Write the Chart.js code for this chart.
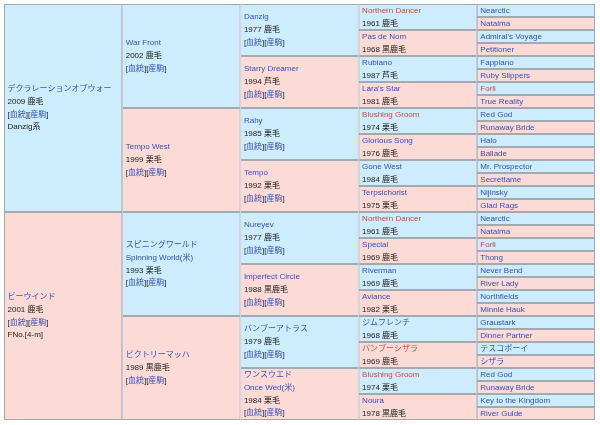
<!DOCTYPE html>
<html>
<head>
<meta charset="utf-8">
<script src="https://cdn.jsdelivr.net/npm/chart.js@4/dist/chart.umd.min.js"></script>
<style>
  html, body { margin: 0; padding: 0; background: #fff; }
  canvas { display: block; }
</style>
</head>
<body>
<canvas id="pedigree" width="600" height="425"></canvas>
<script>
// 世代 (列)
const generations = ['1代', '2代', '3代', '4代', '5代'];

// 1代
const gen1Names = ['デクラレーションオブウォー', 'ビーウインド'];
const gen1Info = ['2009 鹿毛', '2001 鹿毛'];
const gen1Extra = ['Danzig系', 'FNo.[4-m]'];

// 2代
const gen2Names = ['War Front', 'Tempo West', 'スピニングワールド\nSpinning World(米)', 'ビクトリーマッハ'];
const gen2Info = ['2002 鹿毛', '1999 栗毛', '1993 栗毛', '1989 黒鹿毛'];

// 3代
const gen3Names = ['Danzig', 'Starry Dreamer', 'Rahy', 'Tempo', 'Nureyev', 'Imperfect Circle',
  'バンブーアトラス', 'ワンスウエド\nOnce Wed(米)'];
const gen3Info = ['1977 鹿毛', '1994 芦毛', '1985 栗毛', '1992 栗毛', '1977 鹿毛', '1988 黒鹿毛',
  '1979 鹿毛', '1984 栗毛'];

// 4代
const gen4Names = ['Northern Dancer', 'Pas de Nom', 'Rubiano', "Lara's Star", 'Blushing Groom',
  'Glorious Song', 'Gone West', 'Terpsichorist', 'Northern Dancer', 'Special', 'Riverman', 'Aviance',
  'ジムフレンチ', 'バンブーシザラ', 'Blushing Groom', 'Noura'];
const gen4Info = ['1961 鹿毛', '1968 黒鹿毛', '1987 芦毛', '1981 鹿毛', '1974 栗毛', '1976 鹿毛',
  '1984 鹿毛', '1975 栗毛', '1961 鹿毛', '1969 鹿毛', '1969 鹿毛', '1982 栗毛', '1968 鹿毛',
  '1969 鹿毛', '1974 栗毛', '1978 黒鹿毛'];

// 5代
const gen5Names = ['Nearctic', 'Natalma', "Admiral's Voyage", 'Petitioner', 'Fappiano', 'Ruby Slippers',
  'Forli', 'True Reality', 'Red God', 'Runaway Bride', 'Halo', 'Ballade', 'Mr. Prospector', 'Secrettame',
  'Nijinsky', 'Glad Rags', 'Nearctic', 'Natalma', 'Forli', 'Thong', 'Never Bend', 'River Lady',
  'Northfields', 'Minnie Hauk', 'Graustark', 'Dinner Partner', 'テスコボーイ', 'シザラ', 'Red God',
  'Runaway Bride', 'Key to the Kingdom', 'River Guide'];

// 赤字で表示される馬名
const redNames = ['Northern Dancer', 'Blushing Groom', 'Forli', 'バンブーシザラ'];

const totalRows = 32;
const colorSire = '#cdecfd';
const colorDam = '#fcdad5';
const colorLink = '#3550c0';
const colorRed = '#cc4a3c';
const colorText = '#222222';
const LINKS = 'links';

// セルごとの表示行を作る
function nameLines(name) {
  const c = redNames.includes(name) ? colorRed : colorLink;
  return name.split('\n').map(t => ({ text: t, color: c }));
}

const cells = [];
const lines = [];
function addGen(g, names, build) {
  const span = totalRows / names.length;
  names.forEach((name, i) => {
    cells.push({ x: generations[g], y: [i * span, (i + 1) * span] });
    lines.push(build(name, i));
  });
}
addGen(0, gen1Names, (n, i) => [...nameLines(n), { text: gen1Info[i], color: colorText }, LINKS,
  { text: gen1Extra[i], color: colorText }]);
addGen(1, gen2Names, (n, i) => [...nameLines(n), { text: gen2Info[i], color: colorText }, LINKS]);
addGen(2, gen3Names, (n, i) => [...nameLines(n), { text: gen3Info[i], color: colorText }, LINKS]);
addGen(3, gen4Names, (n, i) => [...nameLines(n), { text: gen4Info[i], color: colorText }]);
addGen(4, gen5Names, (n) => nameLines(n));

const bgColors = cells.map(c => (Math.round(c.y[0] / (c.y[1] - c.y[0])) % 2 === 0 ? colorSire : colorDam));

// 文字を描くプラグイン
const textPlugin = {
  id: 'cellText',
  afterDatasetsDraw(chart) {
    const ctx = chart.ctx;
    const meta = chart.getDatasetMeta(0);
    const lineH = 12.8;
    ctx.save();
    ctx.font = '8px "Liberation Sans", Arial, "Noto Sans CJK JP", sans-serif';
    ctx.textBaseline = 'middle';
    ctx.textAlign = 'left';
    meta.data.forEach((bar, i) => {
      const p = bar.getProps(['x', 'y', 'base', 'width'], true);
      const left = p.x - p.width / 2 + 3.5;
      const mid = (p.y + p.base) / 2;
      const ls = lines[i];
      let y = mid - (ls.length - 1) * lineH / 2;
      ls.forEach(l => {
        if (l === LINKS) {
          let x = left;
          [['[', colorText], ['血統', colorLink], ['][', colorText], ['産駒', colorLink], [']', colorText]]
            .forEach(([t, c]) => {
              ctx.fillStyle = c;
              ctx.fillText(t, x, y);
              x += ctx.measureText(t).width;
            });
        } else {
          ctx.fillStyle = l.color;
          ctx.fillText(l.text, left, y);
        }
        y += lineH;
      });
    });
    ctx.restore();
  }
};

new Chart(document.getElementById('pedigree'), {
  type: 'bar',
  data: {
    labels: generations,
    datasets: [{
      data: cells,
      backgroundColor: bgColors,
      borderColor: '#a3a9b0',
      borderWidth: 1,
      borderSkipped: false,
      inflateAmount: 0,
      barPercentage: 1,
      categoryPercentage: 1
    }]
  },
  options: {
    responsive: false,
    animation: false,
    layout: { padding: { left: 4, top: 4, right: 5, bottom: 5 } },
    plugins: { legend: { display: false }, tooltip: { enabled: false } },
    scales: {
      x: { display: false },
      y: { display: false, min: 0, max: totalRows, reverse: true }
    }
  },
  plugins: [textPlugin]
});
</script>
</body>
</html>
